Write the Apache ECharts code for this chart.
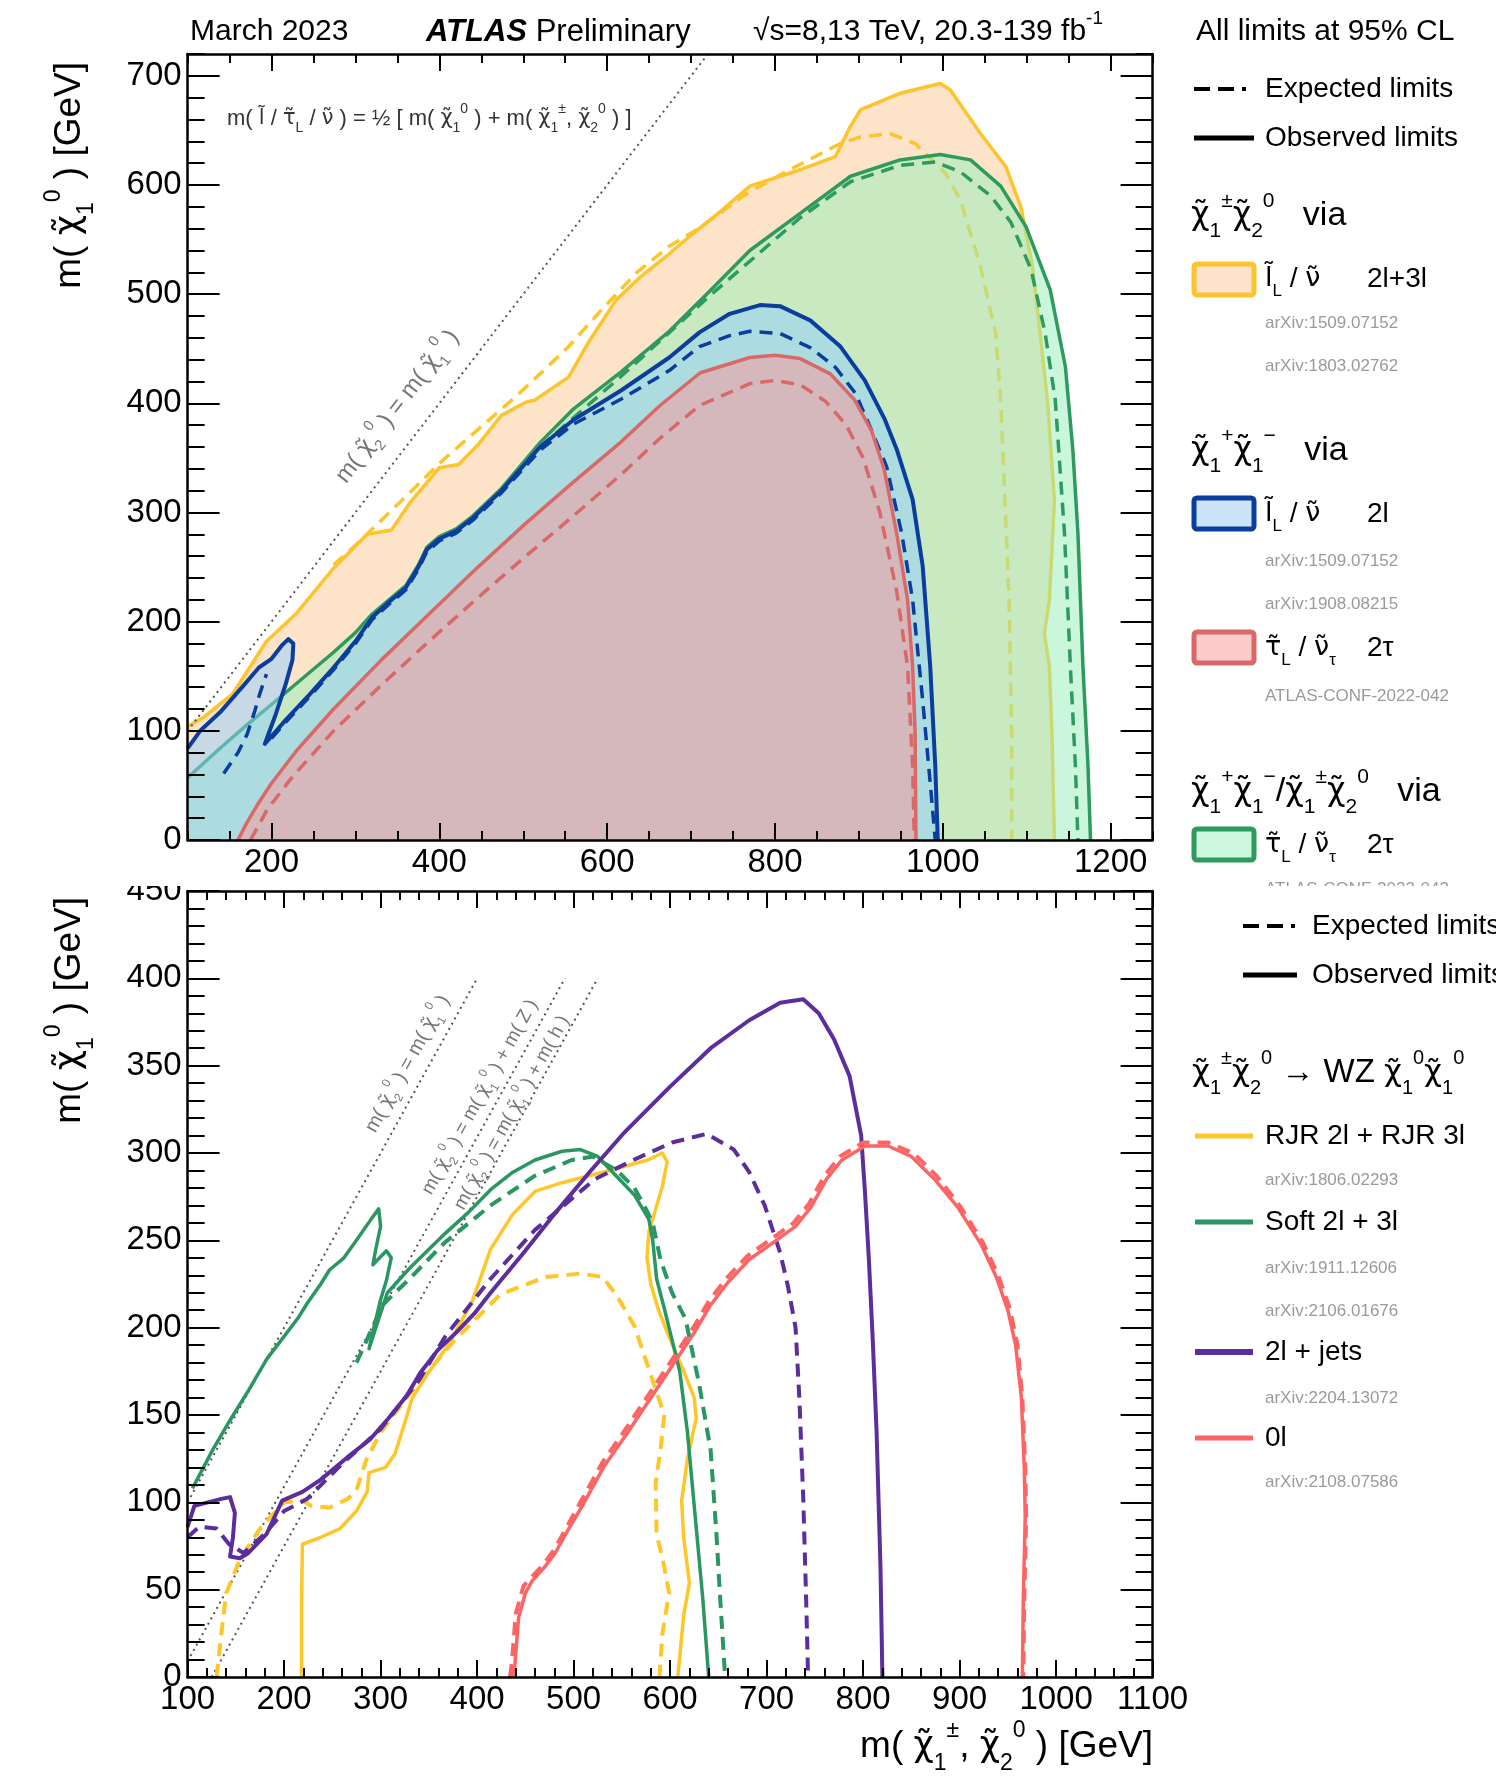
<!DOCTYPE html>
<html>
<head>
<meta charset="utf-8">
<script src="https://cdn.jsdelivr.net/npm/echarts@6.0.0/dist/echarts.min.js"></script>
<style>
html,body{margin:0;padding:0;background:#ffffff;}
#chart{width:1496px;height:1782px;}
</style>
</head>
<body>
<div id="chart"></div>
<script>
// ---------------- tick values ----------------
const topXTicks = [200, 400, 600, 800, 1000, 1200];
const topYTicks = [0, 100, 200, 300, 400, 500, 600, 700];
const botXTicks = [100, 200, 300, 400, 500, 600, 700, 800, 900, 1000, 1100];
const botYTicks = [0, 50, 100, 150, 200, 250, 300, 350, 400, 450];

// ---------------- top panel (slepton-mediated) [m(chi1pm,chi20), m(chi10)] ----------------
const slOrangeObs = [[100,104],[120,113],[154,134],[194,182],[229,207],[274,249],[314,280],[343,284],[366,310],[400,341],[423,344],[446,362],[474,389],[503,401],[514,403],[554,424],[577,455],[611,495],[640,516],[674,537],[703,556],[737,577],[770,599],[830,614],[872,626],[890,654],[902,669],[949,684],[997,693],[1009,687],[1045,647],[1075,617],[1093,580],[1107,525],[1116,464],[1125,400],[1133,311],[1127,220],[1121,189],[1127,159],[1130,98],[1133,0]];
const slOrangeExp = [[274,252],[300,270],[331,293],[366,319],[400,345],[440,372],[491,406],[520,427],[554,452],[589,482],[634,519],[674,544],[709,560],[766,592],[820,615],[878,638],[902,644],[937,647],[967,638],[1003,611],[1021,586],[1045,525],[1063,464],[1069,403],[1073,330],[1079,220],[1082,98],[1082,0]];
const slGreenObs = [[100,57],[140,85],[170,105],[206,128],[240,150],[274,172],[300,190],[320,207],[340,220],[360,233],[375,252],[385,268],[400,278],[420,285],[440,297],[474,322],[520,364],[560,395],[617,429],[674,466],[720,501],[770,540],[830,574],[890,608],[949,623],[997,628],[1033,623],[1069,599],[1099,562],[1128,504],[1146,434],[1155,357],[1161,281],[1167,159],[1173,68],[1176,0]];
const slGreenExp = [[520,360],[617,425],[720,497],[830,570],[890,603],[949,618],[991,621],[1021,612],[1057,590],[1081,566],[1105,523],[1122,464],[1134,403],[1145,281],[1152,159],[1158,68],[1161,0]];
const slBlueObs = [[100,84],[115,100],[140,118],[165,140],[185,158],[200,166],[212,178],[220,184],[226,180],[225,165],[217,143],[205,115],[192,88],[200,95],[217,110],[245,133],[274,158],[300,182],[320,204],[340,218],[360,231],[375,250],[385,266],[400,276],[420,283],[440,295],[474,320],[520,360],[560,385],[617,412],[674,442],[710,465],[746,482],[782,490],[806,489],[842,476],[878,452],[907,421],[931,385],[945,358],[964,312],[976,251],[985,159],[991,68],[994,0]];
const slBlueExp = [[200,93],[217,108],[245,131],[274,156],[300,180],[320,202],[340,216],[360,229],[375,248],[385,264],[400,274],[420,281],[440,293],[474,318],[520,357],[560,381],[617,404],[674,430],[710,452],[746,462],[770,466],[806,464],[842,451],[872,433],[896,409],[913,379],[933,342],[951,281],[964,220],[976,128],[985,52],[991,0]];
const slBlueExpIsland = [[143,61],[160,80],[171,97],[180,118],[186,134],[194,152]];
const slRedObs = [[160,0],[170,15],[183,32],[200,52],[230,82],[274,120],[331,165],[389,208],[446,250],[503,290],[560,328],[617,365],[663,398],[711,428],[770,442],[800,444],[830,441],[866,427],[895,403],[915,375],[930,340],[945,281],[958,220],[964,159],[967,98],[968,0]];
const slRedExp = [[175,0],[195,28],[225,58],[274,100],[331,142],[389,183],[446,222],[503,260],[560,297],[617,335],[663,368],[710,398],[770,418],[800,421],[830,417],[860,402],[885,380],[905,350],[925,300],[945,228],[958,159],[964,68],[966,0]];
const slDiagonal = [[100,100],[720,720]];

// ---------------- bottom panel (WZ-mediated) ----------------
const wzOrangeObs = [[218,0],[218,40],[219,76],[238,80],[258,85],[275,95],[286,106],[288,117],[305,120],[315,128],[323,142],[333,160],[348,173],[370,190],[395,215],[414,245],[437,265],[460,278],[488,283],[530,289],[577,296],[592,300],[597,295],[592,281],[584,266],[578,255],[576,240],[580,225],[588,210],[598,196],[612,178],[625,160],[627,148],[618,125],[612,101],[614,80],[620,54],[614,35],[608,0]];
const wzOrangeExp = [[130,0],[135,25],[140,48],[154,67],[175,85],[200,100],[219,101],[228,98],[247,97],[266,102],[275,107],[285,124],[300,140],[330,162],[360,182],[377,193],[424,219],[471,229],[507,231],[530,229],[544,219],[563,201],[586,163],[594,150],[590,130],[585,111],[586,82],[594,63],[599,48],[592,25],[589,0]];
const wzGreenObs = [[105,108],[126,130],[144,147],[163,164],[182,182],[200,195],[215,206],[224,214],[238,225],[247,233],[262,240],[275,250],[290,262],[298,268],[300,258],[295,245],[292,236],[306,244],[311,240],[306,227],[300,216],[293,200],[288,188],[298,205],[307,220],[330,234],[367,254],[391,266],[414,279],[437,289],[460,296],[488,301],[507,302],[525,298],[544,287],[563,276],[578,262],[582,250],[586,228],[594,211],[602,193],[610,175],[618,140],[626,92],[634,44],[640,0]];
const wzGreenExp = [[275,180],[285,192],[302,213],[330,228],[367,249],[414,270],[460,287],[498,296],[520,298],[545,290],[563,280],[574,269],[582,260],[590,239],[602,220],[616,205],[630,168],[642,130],[648,82],[652,44],[657,0]];
const wzPurpleObs = [[100,86],[107,98],[121,100],[135,102],[144,103],[149,94],[147,80],[144,69],[154,68],[163,71],[182,82],[198,101],[219,106],[238,113],[266,126],[289,136],[308,148],[327,161],[341,174],[359,187],[378,197],[397,208],[414,220],[447,242],[480,265],[518,290],[553,312],[600,338],[642,360],[682,376],[714,386],[738,388],[754,380],[770,365],[786,344],[798,310],[802,277],[806,239],[810,193],[814,140],[818,63],[820,0]];
const wzPurpleExp = [[100,80],[112,86],[130,85],[143,76],[158,71],[180,82],[200,95],[224,102],[260,122],[300,142],[340,170],[367,195],[414,228],[460,256],[522,285],[562,296],[602,306],[638,311],[666,302],[682,289],[698,270],[714,243],[722,224],[730,200],[734,159],[738,102],[741,44],[743,0]];
const wzRedObs = [[437,0],[439,6],[443,34],[450,48],[457,55],[470,63],[481,71],[495,85],[509,98],[532,121],[556,140],[579,159],[602,178],[626,198],[642,213],[660,226],[682,239],[710,250],[730,258],[746,269],[762,285],[778,296],[802,304],[826,304],[850,298],[874,285],[898,269],[922,248],[938,229],[950,210],[958,190],[964,160],[967,120],[968,92],[966,44],[965,0]];
const wzRedExp = [[434,0],[436,8],[440,36],[448,52],[468,64],[480,73],[493,86],[507,100],[530,123],[554,142],[577,161],[600,180],[624,200],[640,215],[658,228],[680,241],[708,252],[728,260],[744,271],[760,287],[776,298],[800,306],[826,306],[852,300],[876,287],[900,270],[924,249],[940,230],[952,211],[960,190],[965,160],[968,120],[969,92],[967,44],[966,0]];
const wzDiagonal = [[100,100],[400,400]];
const wzDiagonalZ = [[100,9],[491,400]];
const wzDiagonalH = [[125,0],[525,400]];

// ---------------- styling ----------------
const FF = "'Liberation Sans', Arial, Helvetica, sans-serif";
const GF = "'DejaVu Sans', 'Liberation Sans', sans-serif";
const C = {
  orange: '#fcc42d', green: '#2e9a5e', blue: '#0b3d9e', red: '#d96868',
  orangeFill: 'rgba(250,188,125,0.42)', greenFill: 'rgba(150,240,185,0.5)',
  blueFill: 'rgba(143,208,255,0.5)', redFill: 'rgba(246,155,157,0.55)',
  wzOrange: '#ffc629', wzGreen: '#2a9661', wzPurple: '#5c2d9d', wzRed: '#ff6464'
};

function closeFill(pts) {
  const out = pts.slice();
  if (out[0][1] !== 0) out.unshift([out[0][0], 0]);
  const last = out[out.length - 1];
  if (last[1] !== 0) out.push([last[0], 0]);
  return out;
}
function fillS(pts, color, ax, z) {
  const poly = closeFill(pts);
  return {
    type: 'custom', xAxisIndex: ax, yAxisIndex: ax, z, silent: true, animation: false,
    data: poly,
    renderItem(params, api) {
      if (params.dataIndex !== 0) return null;
      return { type: 'polygon', shape: { points: poly.map(p => api.coord(p)) }, style: { fill: color } };
    }
  };
}
function lineS(pts, color, width, dash, ax, z) {
  return {
    type: 'line', data: pts, xAxisIndex: ax, yAxisIndex: ax, z, silent: true, animation: false,
    showSymbol: false, symbol: 'none', smooth: false, clip: true,
    lineStyle: { color, width, type: dash ? dash : 'solid', cap: 'butt', join: 'round' }
  };
}
const plainNum = v => String(v);

function xAxesFor(grid, min, max, major, minor) {
  const base = { type: 'value', gridIndex: grid, min, max, z: 50, silent: true, splitLine: { show: false } };
  const tk = { color: '#000', width: 2 };
  return [
    Object.assign({}, base, { position: 'bottom',
      axisLine: { show: true, onZero: false, lineStyle: { color: '#000', width: 2.5 } },
      axisTick: { show: true, inside: true, length: 17, customValues: major, lineStyle: tk },
      axisLabel: { show: true, customValues: major, formatter: plainNum, fontSize: 33, fontFamily: FF, color: '#000', margin: 6 } }),
    Object.assign({}, base, { position: 'bottom', interval: minor,
      axisLine: { show: false, onZero: false }, axisTick: { show: true, inside: true, length: 9, lineStyle: tk }, axisLabel: { show: false } }),
    Object.assign({}, base, { position: 'top',
      axisLine: { show: true, onZero: false, lineStyle: { color: '#000', width: 2.5 } },
      axisTick: { show: true, inside: true, length: 17, customValues: major, lineStyle: tk }, axisLabel: { show: false } }),
    Object.assign({}, base, { position: 'top', interval: minor,
      axisLine: { show: false, onZero: false }, axisTick: { show: true, inside: true, length: 9, lineStyle: tk }, axisLabel: { show: false } })
  ];
}
function yAxesFor(grid, min, max, major, minor) {
  const base = { type: 'value', gridIndex: grid, min, max, z: 50, silent: true, splitLine: { show: false } };
  const tk = { color: '#000', width: 2 };
  return [
    Object.assign({}, base, { position: 'left',
      axisLine: { show: true, onZero: false, lineStyle: { color: '#000', width: 2.5 } },
      axisTick: { show: true, inside: true, length: 32, customValues: major, lineStyle: tk },
      axisLabel: { show: true, customValues: major, formatter: plainNum, fontSize: 33, fontFamily: FF, color: '#000', margin: 6 } }),
    Object.assign({}, base, { position: 'left', interval: minor,
      axisLine: { show: false, onZero: false }, axisTick: { show: true, inside: true, length: 17, lineStyle: tk }, axisLabel: { show: false } }),
    Object.assign({}, base, { position: 'right',
      axisLine: { show: true, onZero: false, lineStyle: { color: '#000', width: 2.5 } },
      axisTick: { show: true, inside: true, length: 32, customValues: major, lineStyle: tk }, axisLabel: { show: false } }),
    Object.assign({}, base, { position: 'right', interval: minor,
      axisLine: { show: false, onZero: false }, axisTick: { show: true, inside: true, length: 17, lineStyle: tk }, axisLabel: { show: false } })
  ];
}

const DASH = [13, 8];
const series = [
  fillS(slOrangeObs, C.orangeFill, 0, 1),
  lineS(slOrangeObs, C.orange, 3.5, null, 0, 2),
  lineS(slOrangeExp, C.orange, 3.5, DASH, 0, 2),
  fillS(slGreenObs, C.greenFill, 0, 3),
  lineS(slGreenObs, C.green, 3.5, null, 0, 4),
  lineS(slGreenExp, C.green, 3.5, DASH, 0, 4),
  fillS(slBlueObs, C.blueFill, 0, 5),
  lineS(slBlueExp, C.blue, 3.5, DASH, 0, 6),
  lineS(slBlueExpIsland, C.blue, 3.5, DASH, 0, 6),
  lineS(slBlueObs, C.blue, 4, null, 0, 6),
  fillS(slRedObs, C.redFill, 0, 7),
  lineS(slRedObs, C.red, 3.5, null, 0, 8),
  lineS(slRedExp, C.red, 3.5, DASH, 0, 8),
  lineS(slDiagonal, '#555', 2, [2, 4], 0, 9),
  lineS(wzDiagonal, '#555', 2, [2, 4], 4, 2),
  lineS(wzDiagonalZ, '#555', 2, [2, 4], 4, 2),
  lineS(wzDiagonalH, '#555', 2, [2, 4], 4, 2),
  lineS(wzOrangeObs, C.wzOrange, 3.5, null, 4, 3),
  lineS(wzOrangeExp, C.wzOrange, 4, DASH, 4, 3),
  lineS(wzGreenObs, C.wzGreen, 3.5, null, 4, 4),
  lineS(wzGreenExp, C.wzGreen, 4, DASH, 4, 4),
  lineS(wzPurpleObs, C.wzPurple, 4, null, 4, 5),
  lineS(wzPurpleExp, C.wzPurple, 4, DASH, 4, 5),
  lineS(wzRedExp, C.wzRed, 4, DASH, 4, 6),
  lineS(wzRedObs, C.wzRed, 3.5, null, 4, 6)
];

const option = {
  backgroundColor: '#ffffff',
  animation: false,
  grid: [
    { left: 187.6, top: 54, width: 965, height: 786 },
    { left: 187.6, top: 891, width: 965, height: 786 }
  ],
  xAxis: xAxesFor(0, 100, 1250, topXTicks, 50).concat(xAxesFor(1, 100, 1100, botXTicks, 20)),
  yAxis: yAxesFor(0, 0, 720, topYTicks, 20).concat(yAxesFor(1, 0, 450, botYTicks, 10)),
  series
};

const chart = echarts.init(document.getElementById('chart'), null, { renderer: 'canvas' });
chart.setOption(option);

// ---------------- text / legend graphics ----------------
function rich(size, color) {
  const lh = Math.round(size * 1.5);
  const s = Math.round(size * 0.62);
  return {
    m: { fontSize: size, fontFamily: FF, fill: color, lineHeight: lh },
    g: { fontSize: Math.round(size * 0.95), fontFamily: GF, fill: color, lineHeight: lh },
    b: { fontSize: size, fontFamily: FF, fill: color, lineHeight: lh, fontWeight: 'bold', fontStyle: 'italic' },
    sb: { fontSize: s, fontFamily: FF, fill: color, lineHeight: lh, verticalAlign: 'bottom' },
    sp: { fontSize: s, fontFamily: FF, fill: color, lineHeight: lh, verticalAlign: 'top' }
  };
}
function T(x, y, text, size, o) {
  o = o || {};
  const color = o.color || '#000';
  return { type: 'text', x, y, z: 100, silent: true, rotation: o.rot || 0,
    style: { text, rich: rich(size, color), fontSize: size, fontFamily: FF, fill: color,
      align: o.align || 'left', verticalAlign: o.va || 'middle' } };
}
function L(x1, y1, x2, y2, color, w, dash) {
  return { type: 'line', z: 100, silent: true, shape: { x1, y1, x2, y2 },
    style: { stroke: color, lineWidth: w, lineDash: dash || null } };
}
function R(x, y, w, h, fill, stroke) {
  return { type: 'rect', z: 100, silent: true, shape: { x, y, width: w, height: h, r: 3 },
    style: { fill, stroke, lineWidth: 5 } };
}
const chi = (sb, sp) => `{g|\u03C7\u0303}{sb|${sb}}{sp|${sp}}`;
const SL = '{g|l\u0303}{sb|L}';
const NU = '{g|\u03BD\u0303}';
const TAU = '{g|\u03C4\u0303}{sb|L}';
const GREY = '#9a9a9a';
const LDASH = [16, 8, 16, 8, 4, 200];

const g = [];
g.push(T(190, 32, '{m|March 2023}', 30));
g.push(T(426, 32, '{b|ATLAS}{m| Preliminary}', 31));
g.push(T(753, 32, '{m|√s=8,13 TeV, 20.3-139 fb}{sp|-1}', 30));
g.push(T(1196, 32, '{m|All limits at 95% CL}', 30));
// top legend
g.push(L(1194, 89, 1254, 89, '#000', 4, LDASH));
g.push(T(1265, 89, '{m|Expected limits}', 28));
g.push(L(1194, 138, 1254, 138, '#000', 5));
g.push(T(1265, 138, '{m|Observed limits}', 28));
g.push(T(1191, 216, chi('1', '±') + chi('2', '0') + '{m|   via}', 34));
g.push(R(1194, 264, 60, 31, '#fde3cc', C.orange));
g.push(T(1265, 279, SL + '{m| / }' + NU, 28));
g.push(T(1367, 279, '{m|2l+3l}', 28));
g.push(T(1265, 323, '{m|arXiv:1509.07152}', 17, { color: GREY }));
g.push(T(1265, 366, '{m|arXiv:1803.02762}', 17, { color: GREY }));
g.push(T(1191, 451, chi('1', '+') + chi('1', '−') + '{m|   via}', 34));
g.push(R(1194, 498, 60, 31, '#cce4f8', C.blue));
g.push(T(1265, 514, SL + '{m| / }' + NU, 28));
g.push(T(1367, 514, '{m|2l}', 28));
g.push(T(1265, 561, '{m|arXiv:1509.07152}', 17, { color: GREY }));
g.push(T(1265, 604, '{m|arXiv:1908.08215}', 17, { color: GREY }));
g.push(R(1194, 632, 60, 31, '#fbcaca', C.red));
g.push(T(1265, 648, TAU + '{m| / }' + NU + '{sb|τ}', 28));
g.push(T(1367, 648, '{m|2τ}', 28));
g.push(T(1265, 696, '{m|ATLAS-CONF-2022-042}', 17, { color: GREY }));
g.push(T(1191, 792, chi('1', '+') + chi('1', '−') + '{m|/}' + chi('1', '±') + chi('2', '0') + '{m|   via}', 34));
g.push(R(1194, 829, 60, 31, '#ccf8e0', C.green));
g.push(T(1265, 845, TAU + '{m| / }' + NU + '{sb|τ}', 28));
g.push(T(1367, 845, '{m|2τ}', 28));
g.push(T(1265, 889, '{m|ATLAS-CONF-2022-042}', 17, { color: GREY }));
g.push({ type: 'rect', z: 110, silent: true, shape: { x: 1158, y: 886, width: 338, height: 20 }, style: { fill: '#fff' } });
g.push({ type: 'rect', z: 110, silent: true, shape: { x: 110, y: 872, width: 74, height: 14 }, style: { fill: '#fff' } });
// bottom legend
g.push(L(1243, 926, 1297, 926, '#000', 4, LDASH));
g.push(T(1312, 926, '{m|Expected limits}', 28));
g.push(L(1243, 975, 1297, 975, '#000', 5));
g.push(T(1312, 975, '{m|Observed limits}', 28));
g.push(T(1192, 1073, chi('1', '±') + chi('2', '0') + '{m| → WZ }' + chi('1', '0') + chi('1', '0'), 33));
g.push(L(1195, 1136, 1253, 1136, C.wzOrange, 5));
g.push(T(1265, 1136, '{m|RJR 2l + RJR 3l}', 28));
g.push(T(1265, 1180, '{m|arXiv:1806.02293}', 17, { color: GREY }));
g.push(L(1195, 1222, 1253, 1222, C.wzGreen, 5));
g.push(T(1265, 1222, '{m|Soft 2l + 3l}', 28));
g.push(T(1265, 1268, '{m|arXiv:1911.12606}', 17, { color: GREY }));
g.push(T(1265, 1311, '{m|arXiv:2106.01676}', 17, { color: GREY }));
g.push(L(1195, 1352, 1253, 1352, C.wzPurple, 6));
g.push(T(1265, 1352, '{m|2l + jets}', 28));
g.push(T(1265, 1398, '{m|arXiv:2204.13072}', 17, { color: GREY }));
g.push(L(1195, 1438, 1253, 1438, C.wzRed, 5));
g.push(T(1265, 1438, '{m|0l}', 28));
g.push(T(1265, 1482, '{m|arXiv:2108.07586}', 17, { color: GREY }));
// axis titles
const yTitle = '{m|m( }' + chi('1', '0') + '{m| ) [GeV]}';
g.push(T(70, 62, yTitle, 37, { rot: Math.PI / 2, align: 'right' }));
g.push(T(70, 897, yTitle, 37, { rot: Math.PI / 2, align: 'right' }));
g.push(T(1153, 1747, '{m|m( }' + chi('1', '±') + '{m|, }' + chi('2', '0') + '{m| ) [GeV]}', 37, { align: 'right' }));
// in-plot annotations
g.push(T(227, 119, '{m|m( }' + '{g|l\u0303}{m| / }' + TAU + '{m| / }' + NU + '{m| ) = ½ [ m( }' + chi('1', '0') + '{m| ) + m( }' + chi('1', '±') + '{m|, }' + chi('2', '0') + '{m| ) ]}', 22, { color: '#333' }));

function along(ax, pt, rotDeg, text, size) {
  const p = chart.convertToPixel({ xAxisIndex: ax, yAxisIndex: ax }, pt);
  return T(p[0], p[1], text, size, { rot: rotDeg * Math.PI / 180, align: 'center', color: '#777' });
}
const diagText = '{m|m( }' + chi('2', '0') + '{m| ) = m( }' + chi('1', '0') + '{m| )}';
g.push(along(0, [350, 397], 52.4, diagText, 24));
g.push(along(4, [328, 351], 61, diagText, 20));
g.push(along(4, [403, 332], 61, '{m|m( }' + chi('2', '0') + '{m| ) = m( }' + chi('1', '0') + '{m| ) + m( Z )}', 19));
g.push(along(4, [436, 323], 61, '{m|m( }' + chi('2', '0') + '{m| ) = m( }' + chi('1', '0') + '{m| ) + m( h )}', 19));

chart.setOption({ graphic: g });
</script>
</body>
</html>
